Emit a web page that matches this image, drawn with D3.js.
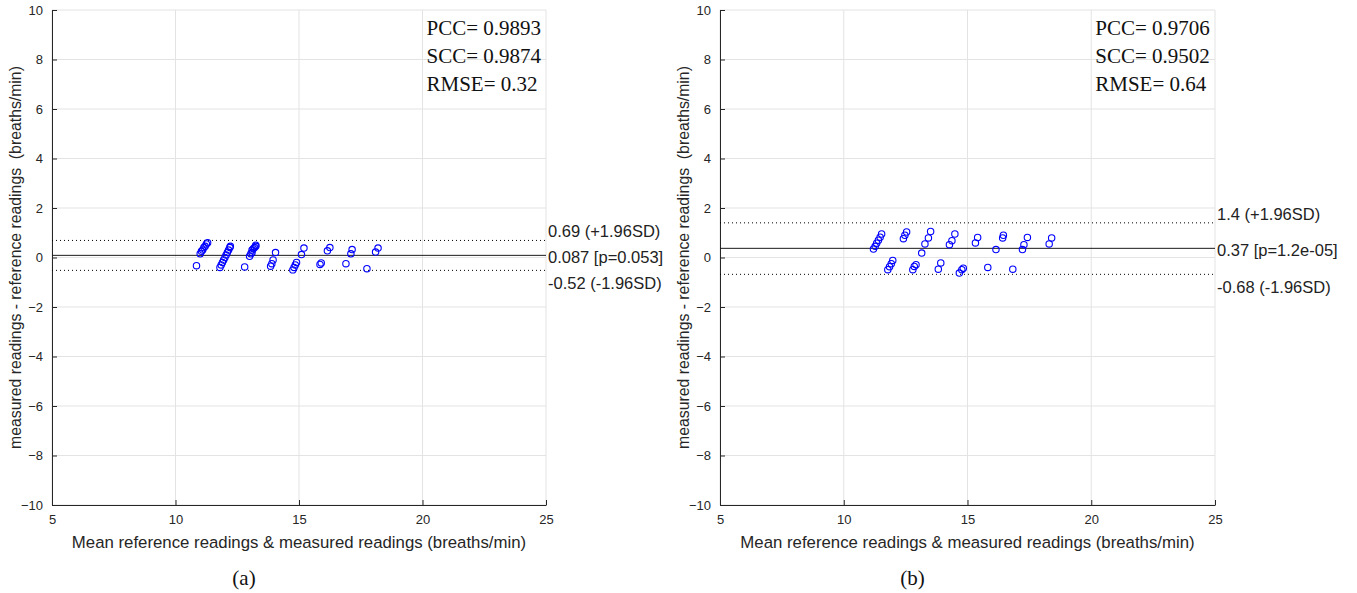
<!DOCTYPE html>
<html>
<head>
<meta charset="utf-8">
<script src="https://cdn.jsdelivr.net/npm/d3@7"></script>
<style>
  body { margin: 0; background: #fff; }
  svg { display: block; }
</style>
</head>
<body>
<svg id="chart"></svg>
<script>
// Panel (a) points: mean of readings vs difference
const aMean = [11.0, 11.05, 11.1, 11.15, 11.2, 11.25, 11.3, 10.85,
  11.8, 11.85, 11.9, 11.95, 12.0, 12.05, 12.1, 12.15, 12.2, 12.22, 12.8,
  13.0, 13.05, 13.1, 13.1, 13.15, 13.2, 13.25, 13.25,
  13.85, 13.9, 13.95, 14.05, 14.75, 14.8, 14.85, 14.9, 15.1, 15.2,
  15.85, 15.9, 16.15, 16.25, 16.9, 17.1, 17.15, 17.75, 18.1, 18.2];
const aDiff = [0.15, 0.25, 0.3, 0.4, 0.45, 0.55, 0.6, -0.33,
  -0.4, -0.3, -0.2, -0.1, 0.0, 0.1, 0.2, 0.3, 0.4, 0.45, -0.38,
  0.05, 0.15, 0.2, 0.3, 0.35, 0.4, 0.45, 0.5,
  -0.35, -0.25, -0.1, 0.2, -0.5, -0.4, -0.3, -0.2, 0.12, 0.38,
  -0.28, -0.22, 0.27, 0.4, -0.25, 0.15, 0.32, -0.45, 0.22, 0.38];

// Panel (b) points
const bMean = [11.2, 11.27, 11.33, 11.4, 11.47, 11.53, 11.78, 11.85, 11.92, 11.98,
  12.41, 12.47, 12.54, 12.79, 12.85, 12.92, 13.15, 13.28, 13.42, 13.51,
  13.82, 13.92, 14.27, 14.37, 14.49, 14.67, 14.77, 14.83, 15.32, 15.41,
  15.82, 16.15, 16.42, 16.45, 16.83, 17.22, 17.28, 17.42, 18.3, 18.4];
const bDiff = [0.34, 0.45, 0.58, 0.7, 0.82, 0.95, -0.49, -0.37, -0.25, -0.12,
  0.76, 0.9, 1.03, -0.49, -0.36, -0.29, 0.18, 0.55, 0.79, 1.05,
  -0.47, -0.22, 0.52, 0.68, 0.95, -0.63, -0.49, -0.43, 0.59, 0.81,
  -0.4, 0.32, 0.79, 0.9, -0.47, 0.32, 0.52, 0.81, 0.55, 0.79];

// limits of agreement: [upper, mean, lower]
const aLimits = [0.69, 0.087, -0.52];
const bLimits = [1.4, 0.37, -0.68];
const aLimitLabels = ["0.69 (+1.96SD)", "0.087 [p=0.053]", "-0.52 (-1.96SD)"];
const bLimitLabels = ["1.4 (+1.96SD)", "0.37 [p=1.2e-05]", "-0.68 (-1.96SD)"];
const aStats = ["PCC= 0.9893", "SCC= 0.9874", "RMSE= 0.32"];
const bStats = ["PCC= 0.9706", "SCC= 0.9502", "RMSE= 0.64"];

const xTicks = [5, 10, 15, 20, 25];
const yTicks = [-10, -8, -6, -4, -2, 0, 2, 4, 6, 8, 10];

const width = 1357, height = 593;
const plotTop = 10, plotBottom = 505;
const axisColor = "#262626";
const gridColor = "#e3e3e3";

const svg = d3.select("#chart")
  .attr("width", width)
  .attr("height", height);

function drawPanel(left, right, means, diffs, limits, limitLabels, stats, caption) {
  const x = d3.scaleLinear().domain([5, 25]).range([left, right]);
  const y = d3.scaleLinear().domain([-10, 10]).range([plotBottom, plotTop]);
  const g = svg.append("g");

  // grid
  g.selectAll(".gx").data(xTicks).enter().append("line")
    .attr("x1", d => x(d)).attr("x2", d => x(d))
    .attr("y1", plotTop).attr("y2", plotBottom)
    .attr("stroke", gridColor).attr("stroke-width", 1);
  g.selectAll(".gy").data(yTicks).enter().append("line")
    .attr("x1", left).attr("x2", right)
    .attr("y1", d => y(d)).attr("y2", d => y(d))
    .attr("stroke", gridColor).attr("stroke-width", 1);

  // axes, ticks pointing inward
  const xAxis = d3.axisBottom(x).tickValues(xTicks).tickSizeInner(-5).tickSizeOuter(0).tickPadding(10);
  const gx = g.append("g")
    .attr("transform", "translate(0," + plotBottom + ")")
    .call(xAxis);
  const yAxis = d3.axisLeft(y).tickValues(yTicks).tickSizeInner(-5).tickSizeOuter(0).tickPadding(9);
  const gy = g.append("g")
    .attr("transform", "translate(" + left + ",0)")
    .call(yAxis);
  [gx, gy].forEach(a => {
    a.select(".domain").attr("stroke", axisColor);
    a.selectAll(".tick line").attr("stroke", axisColor);
    a.selectAll(".tick text")
      .attr("fill", axisColor)
      .style("font-family", "Liberation Sans, Arial, sans-serif")
      .style("font-size", "13px");
  });

  // limit lines
  g.selectAll(".lim").data(limits).enter().append("line")
    .attr("x1", left).attr("x2", right)
    .attr("y1", d => y(d)).attr("y2", d => y(d))
    .attr("stroke", (d, i) => i === 1 ? "#1a1a1a" : "#000")
    .attr("stroke-width", 1)
    .attr("stroke-dasharray", (d, i) => i === 1 ? null : "1,3");

  const offsets = [-3, 8, 19];
  g.selectAll(".limlab").data(limitLabels).enter().append("text")
    .attr("x", right + 2)
    .attr("y", (d, i) => y(limits[i]) + offsets[i])
    .attr("fill", "#222")
    .style("font-family", "Liberation Sans, Arial, sans-serif")
    .style("font-size", "16.5px")
    .text(d => d);

  // points
  g.selectAll("circle").data(means).enter().append("circle")
    .attr("cx", d => x(d))
    .attr("cy", (d, i) => y(diffs[i]))
    .attr("r", 3.2)
    .attr("fill", "none")
    .attr("stroke", "#0000ff")
    .attr("stroke-width", 1.1);

  // stats box text
  g.selectAll(".stat").data(stats).enter().append("text")
    .attr("x", x(20) + 4)
    .attr("y", (d, i) => 35 + i * 28)
    .attr("fill", "#111")
    .style("font-family", "Liberation Serif, serif")
    .style("font-size", "21px")
    .text(d => d);

  // axis labels
  g.append("text")
    .attr("x", (left + right) / 2)
    .attr("y", 548)
    .attr("text-anchor", "middle")
    .attr("fill", axisColor)
    .style("font-family", "Liberation Sans, Arial, sans-serif")
    .style("font-size", "16.8px")
    .text("Mean reference readings & measured readings (breaths/min)");
  g.append("text")
    .attr("transform", "translate(" + (left - 31) + "," + ((plotTop + plotBottom) / 2) + ") rotate(-90)")
    .attr("text-anchor", "middle")
    .attr("fill", axisColor)
    .style("font-family", "Liberation Sans, Arial, sans-serif")
    .style("font-size", "15.8px")
    .style("white-space", "pre")
    .text("measured readings - reference readings  (breaths/min)");

  // caption
  g.append("text")
    .attr("x", (left + right) / 2 - 55)
    .attr("y", 585)
    .attr("text-anchor", "middle")
    .attr("fill", "#111")
    .style("font-family", "Liberation Serif, serif")
    .style("font-size", "21px")
    .text(caption);
}

drawPanel(52, 546, aMean, aDiff, aLimits, aLimitLabels, aStats, "(a)");
drawPanel(720, 1215, bMean, bDiff, bLimits, bLimitLabels, bStats, "(b)");
</script>
</body>
</html>
